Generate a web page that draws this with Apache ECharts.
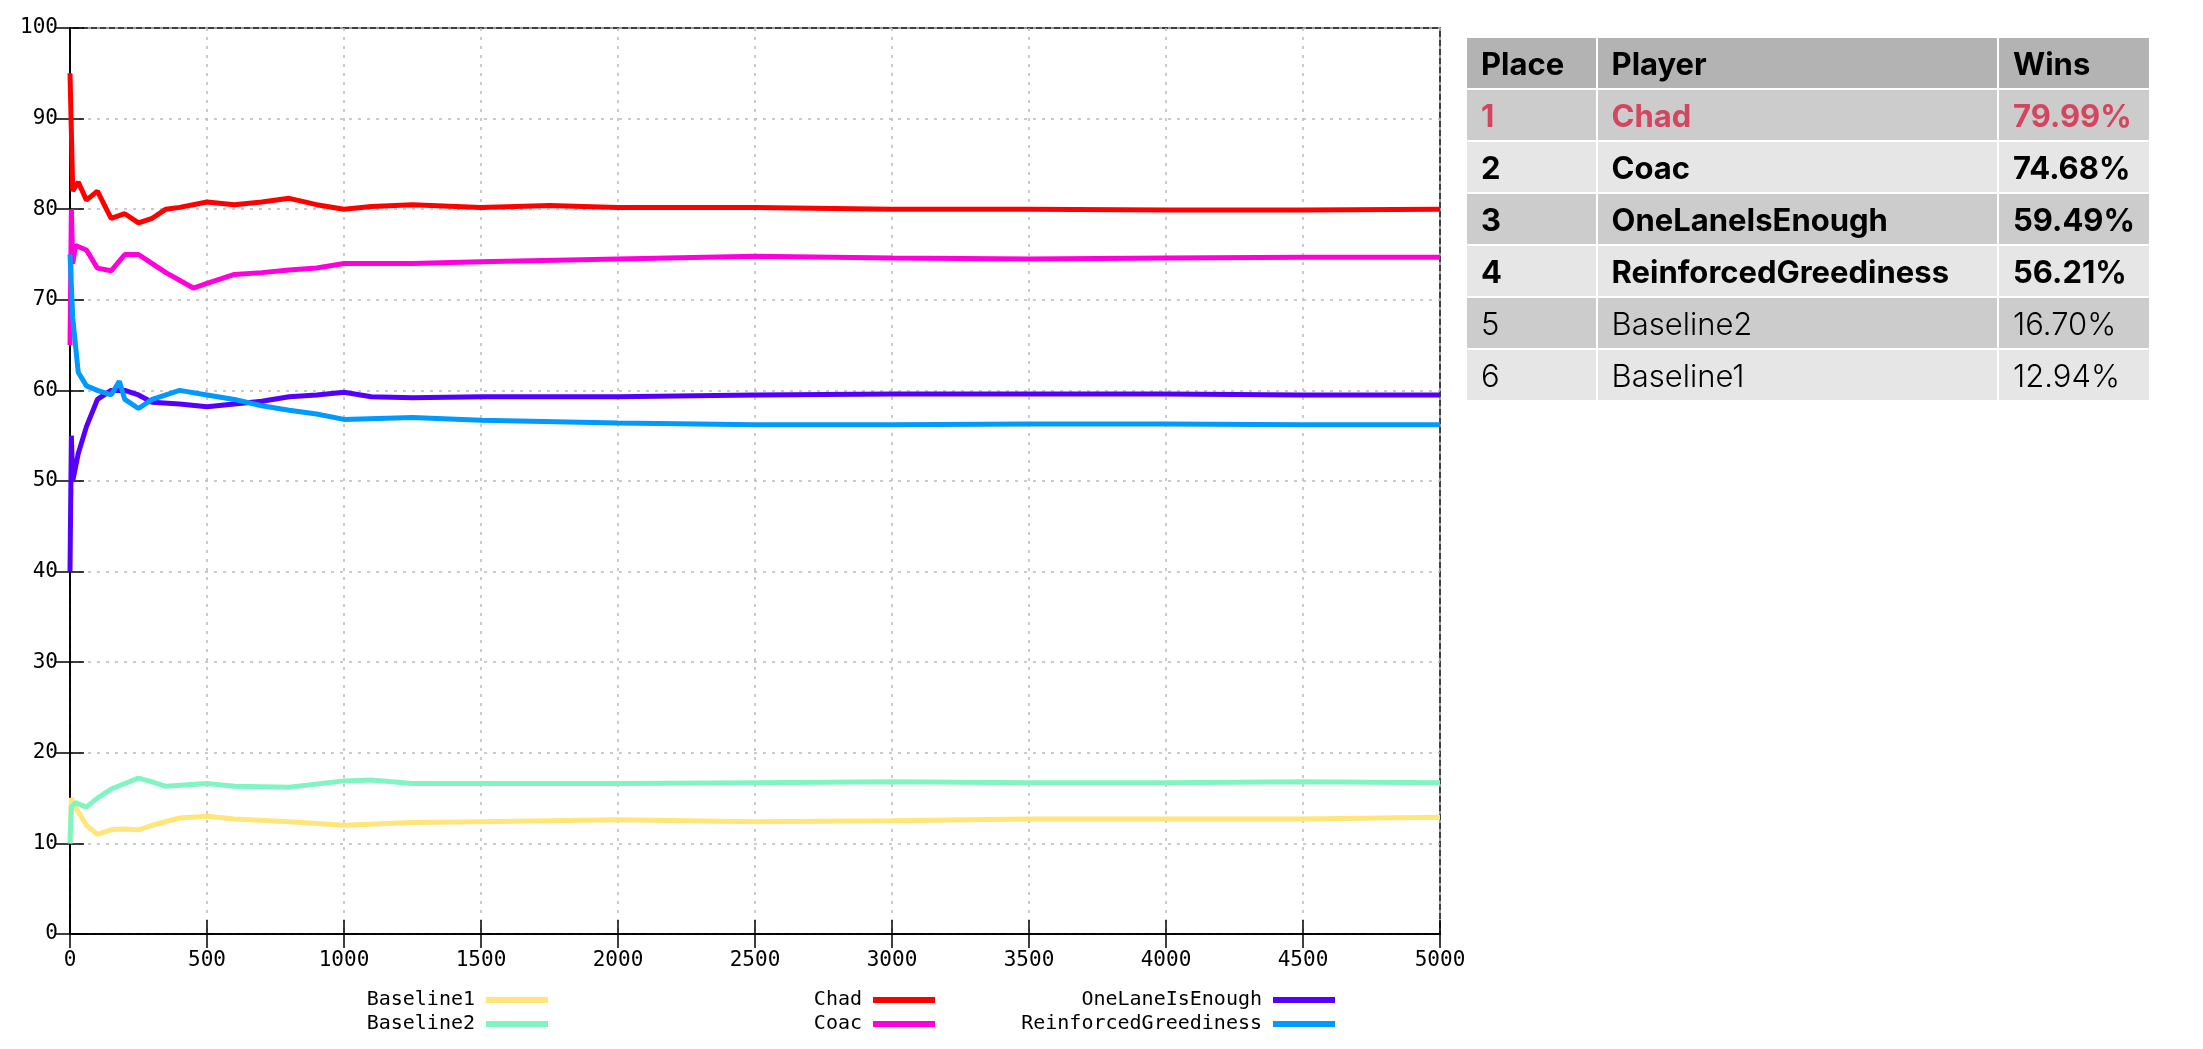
<!DOCTYPE html>
<html>
<head>
<meta charset="utf-8">
<script src="https://cdn.jsdelivr.net/npm/echarts@6/dist/echarts.min.js"></script>
<style>
  html, body { margin: 0; padding: 0; background: #fff; }
  #chart { position: absolute; left: 0; top: 0; width: 2203px; height: 1049px; }
  #board { position: absolute; left: 1465px; top: 36px; width: 686px; border-collapse: collapse;
    font-family: Inter, "Open Sans", sans-serif; font-size: 31px; color: #000; }
  #board td, #board th { border: 2px solid #fff; height: 50px; padding: 0 14px; text-align: left; font-weight: 300; }
  #board th { background: #b3b3b3; font-weight: 700; }
  #board tr:nth-child(odd) td { background: #e6e6e6; }
  #board tr:nth-child(even) td { background: #cccccc; }
  #board td.b { font-weight: 700; }
  #board td.r { color: #d4455f; font-weight: 700; }
</style>
</head>
<body>
<div id="chart"></div>
<table id="board"></table>
<script>
// leaderboard
const places = [1, 2, 3, 4, 5, 6]
const players = ['Chad', 'Coac', 'OneLaneIsEnough', 'ReinforcedGreediness', 'Baseline2', 'Baseline1']
const wins = ['79.99%', '74.68%', '59.49%', '56.21%', '16.70%', '12.94%']

const chadX = [0, 10, 30, 60, 100, 150, 200, 250, 300, 350, 400, 500, 600, 700, 800, 900, 1000, 1100, 1250, 1500, 1750, 2000, 2500, 3000, 3500, 4000, 4500, 5000]
const chadY = [95, 82, 83, 81, 82, 79, 79.5, 78.5, 79, 80, 80.2, 80.8, 80.5, 80.8, 81.2, 80.5, 80, 80.3, 80.5, 80.2, 80.4, 80.2, 80.2, 80, 80, 79.9, 79.9, 80]
const coacX = [0, 5, 10, 20, 60, 100, 150, 200, 250, 300, 350, 450, 500, 600, 700, 800, 900, 1000, 1250, 1500, 2000, 2500, 3000, 3500, 4000, 4500, 5000]
const coacY = [65, 80, 74, 76, 75.5, 73.5, 73.2, 75, 75, 74, 73, 71.3, 71.8, 72.8, 73, 73.3, 73.5, 74, 74, 74.2, 74.5, 74.8, 74.6, 74.5, 74.6, 74.7, 74.7]
const oneLaneX = [0, 5, 10, 30, 60, 100, 150, 200, 250, 300, 400, 500, 600, 700, 800, 900, 1000, 1100, 1250, 1500, 2000, 2500, 3000, 3500, 4000, 4500, 5000]
const oneLaneY = [40, 55, 50, 53, 56, 59, 60, 60, 59.5, 58.7, 58.5, 58.2, 58.5, 58.8, 59.3, 59.5, 59.8, 59.3, 59.2, 59.3, 59.3, 59.5, 59.6, 59.6, 59.6, 59.5, 59.5]
const greedX = [0, 10, 30, 60, 100, 150, 180, 200, 250, 300, 400, 500, 600, 700, 800, 900, 1000, 1250, 1500, 2000, 2500, 3000, 3500, 4000, 4500, 5000]
const greedY = [75, 68, 62, 60.5, 60, 59.5, 61, 59, 58, 59, 60, 59.5, 59, 58.3, 57.8, 57.4, 56.8, 57, 56.7, 56.4, 56.2, 56.2, 56.3, 56.3, 56.2, 56.2]
const base1X = [0, 5, 20, 60, 100, 150, 200, 250, 300, 400, 500, 600, 800, 1000, 1250, 1500, 2000, 2500, 3000, 3500, 4000, 4500, 5000]
const base1Y = [10, 15, 14, 12, 11, 11.5, 11.6, 11.5, 12, 12.8, 13, 12.7, 12.4, 12, 12.3, 12.4, 12.6, 12.4, 12.5, 12.7, 12.7, 12.7, 12.9]
const base2X = [0, 5, 20, 60, 100, 150, 250, 300, 350, 500, 600, 800, 1000, 1100, 1250, 1500, 2000, 2500, 3000, 3500, 4000, 4500, 5000]
const base2Y = [10, 14, 14.5, 14, 15, 16, 17.2, 16.8, 16.3, 16.6, 16.3, 16.2, 16.9, 17, 16.6, 16.6, 16.6, 16.7, 16.8, 16.7, 16.7, 16.8, 16.7]

// table
let html = '<tr><th style="width:110px">Place</th><th style="width:390px">Player</th><th>Wins</th></tr>'
players.forEach((p, i) => {
  let cls = i === 0 ? 'r' : (i < 4 ? 'b' : '')
  html += `<tr><td class="${cls}">${places[i]}</td><td class="${cls}">${p}</td><td class="${cls}">${wins[i]}</td></tr>`
})
document.getElementById('board').innerHTML = html

const zip = (xs, ys) => xs.map((x, i) => [x, ys[i]])
const mono = 'DejaVu Sans Mono'

const lines = [
  { name: 'Baseline1', color: '#ffe57a', data: zip(base1X, base1Y), right: 1655 },
  { name: 'Baseline2', color: '#80f5c2', data: zip(base2X, base2Y), right: 1655 },
  { name: 'Chad', color: '#ff0000', data: zip(chadX, chadY), right: 1268 },
  { name: 'Coac', color: '#ff00dd', data: zip(coacX, coacY), right: 1268 },
  { name: 'OneLaneIsEnough', color: '#5500ff', data: zip(oneLaneX, oneLaneY), right: 868 },
  { name: 'ReinforcedGreediness', color: '#0099ff', data: zip(greedX, greedY), right: 868 }
]

const axisLine = { show: true, lineStyle: { color: '#000', width: 1.5 } }
const splitLine = { show: true, lineStyle: { color: '#bbb', type: [3, 6], width: 1.5 } }
const tick = { inside: true, length: 14, lineStyle: { color: '#000', width: 1.5 } }

const chart = echarts.init(document.getElementById('chart'))
chart.setOption({
  animation: false,
  grid: { left: 70, right: 763, top: 28, bottom: 115, show: true, borderColor: '#000', borderWidth: 1.5 },
  xAxis: [
    { type: 'value', min: 0, max: 5000, interval: 500, axisLine, splitLine, axisTick: tick,
      axisLabel: { fontFamily: mono, fontSize: 21, color: '#000', margin: 16, formatter: v => String(v) } },
    { type: 'value', position: 'top', min: 0, max: 5000, interval: 500, axisLine, axisTick: tick,
      axisLabel: { show: false }, splitLine: { show: false } }
  ],
  yAxis: [
    { type: 'value', min: 0, max: 100, interval: 10, axisLine, splitLine, axisTick: tick,
      axisLabel: { fontFamily: mono, fontSize: 21, color: '#000', margin: 12 } },
    { type: 'value', position: 'right', min: 0, max: 100, interval: 10, axisLine, axisTick: tick,
      axisLabel: { show: false }, splitLine: { show: false } }
  ],
  legend: lines.map((l, i) => ({
    data: [l.name], right: l.right, top: i % 2 === 0 ? 990 : 1014, align: 'right',
    itemWidth: 62, itemHeight: 6, icon: 'rect', itemGap: 0, padding: 0,
    textStyle: { fontFamily: mono, fontSize: 20, color: '#000', padding: [0, 6, 0, 0] }
  })),
  series: lines.map(l => ({
    type: 'line', name: l.name, data: l.data, showSymbol: false,
    lineStyle: { color: l.color, width: 5 }, itemStyle: { color: l.color }
  }))
})
</script>
</body>
</html>
